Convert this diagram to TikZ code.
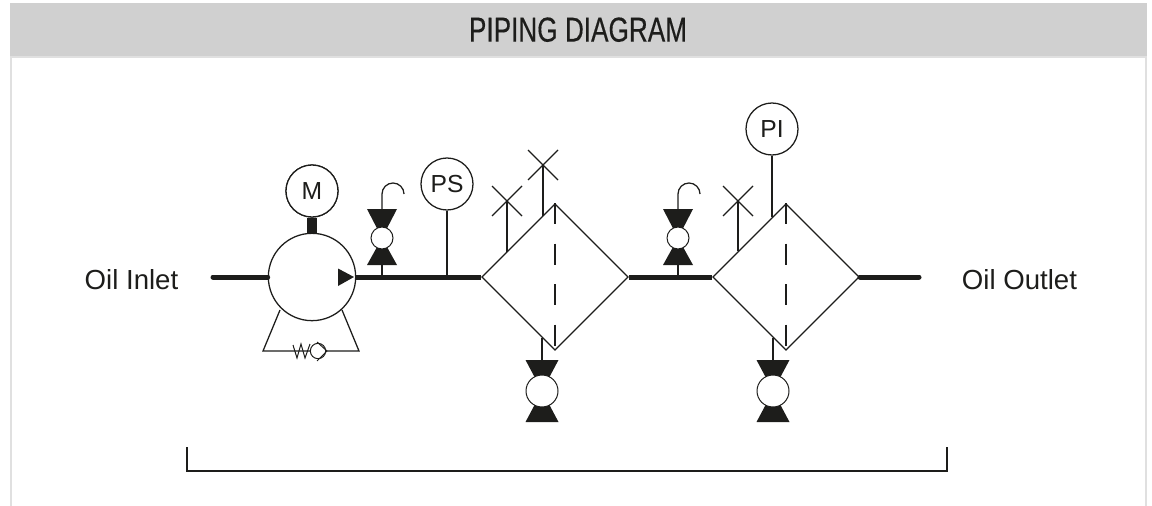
\documentclass[tikz,border=0pt]{standalone}
\usepackage{fontspec}
\setmainfont{Liberation Sans}
\newfontfamily\titlefont[FakeStretch=0.755,FakeBold=0.35]{Liberation Sans}
\usetikzlibrary{shapes.geometric}
\definecolor{pipeink}{HTML}{1D1D1B}
\definecolor{bandgray}{HTML}{D0D0D0}
\definecolor{framegray}{HTML}{E0E0E0}

\begin{document}
\begin{tikzpicture}[x=0.75pt,y=-0.75pt,line join=miter]
  \tikzstyle{pipeLine} = [pipeink,line width=3.75pt,line cap=round];
  \tikzstyle{thinLine} = [pipeink,line width=0.95pt];
  \tikzstyle{gauge} = [draw=pipeink,line width=0.95pt,fill=white,circle,minimum size=39pt,inner sep=0pt,text=pipeink,font={\fontsize{18.5}{20}\selectfont}];
  \tikzstyle{filterBox} = [draw=pipeink,line width=0.95pt,fill=white,diamond,aspect=1,minimum size=110pt,inner sep=0pt];
  \tikzstyle{ball} = [draw=pipeink,line width=0.75pt,fill=white,circle,inner sep=0pt];
  \tikzstyle{edgeLabel} = [font={\fontsize{20.7}{23}\selectfont},text=pipeink];

  \useasboundingbox (0,0) rectangle (1152,506);

  % frame and title
  \draw[framegray,line width=1.5pt] (11,56) -- (11,506) (1146,56) -- (1146,506) (11,57) -- (1146,57);
  \fill[bandgray] (10,3) rectangle (1147,56);
  \node[text=pipeink,inner sep=0pt] (title) at (578,29.7) {\titlefont\fontsize{26}{28}\selectfont PIPING DIAGRAM};

  % main components
  \node[gauge,minimum size=65.5pt] (pump) at (312,277) {};
  \node[gauge] (motor) at (312,191) {};
  \node[gauge] (ps) at (447,184) {PS};
  \node[gauge] (pi) at (772,129) {PI};
  \node[filterBox] (filterA) at (555,277) {};
  \node[filterBox] (filterB) at (786,277) {};
  \node[edgeLabel] (inlet) at (131.5,279.5) {Oil Inlet};
  \node[edgeLabel] (outlet) at (1019.5,279.5) {Oil Outlet};

  % main pipe
  \coordinate (inletEnd) at (213,277);
  \coordinate (outletEnd) at (919,277);
  \draw[pipeLine] (inletEnd) -- (pump.west);
  \draw[pipeLine,line cap=butt] (pump.east) -- (filterA.west);
  \draw[pipeLine,line cap=butt] (filterA.east) -- (filterB.west);
  \draw[pipeLine] (filterB.east) -- (outletEnd);
  \draw[pipeink,line width=8pt] (motor.south) -- (pump.north);
  \node[gauge] at (motor) {M};
  \fill[pipeink] (354,277) -- (338,268.5) -- (338,286) -- cycle;

  % instruments
  \draw[thinLine] (ps.south) -- (447,277);
  \draw[thinLine] (pi.south) -- (772,217);

  % filter cores
  \draw[thinLine,dash pattern=on 16pt off 14.4pt] (filterA.north) -- (filterA.south);
  \draw[thinLine,dash pattern=on 16pt off 14.4pt] (filterB.north) -- (filterB.south);

  % vents
  \foreach \name/\xx/\ybase/\ytop in {ventA/507/252/201,ventB/543/216/165,ventC/738/251/201} {
    \coordinate (\name) at (\xx,\ytop);
    \coordinate (\name Base) at (\xx,\ybase);
    \draw[thinLine] (\name Base) -- (\name);
    \draw[thinLine] (\xx-15,\ytop-15) -- (\xx+15,\ytop+15);
    \draw[thinLine] (\xx-15,\ytop+15) -- (\xx+15,\ytop-15);
  }

  % small valves on the pipe
  \foreach \name/\xx in {valveA/382,valveB/678} {
    \draw[thinLine] (\xx,265) -- (\xx,277);
    \draw[thinLine] (\xx,209) -- (\xx,194) arc[start angle=180,end angle=0,x radius=11,y radius=-11];
    \fill[pipeink] (\xx-15,209) -- (\xx+15,209) -- (\xx,238) -- cycle;
    \fill[pipeink] (\xx-15,265) -- (\xx+15,265) -- (\xx,238) -- cycle;
    \node[ball,minimum size=16.5pt] (\name) at (\xx,238) {};
  }

  % drain valves
  \foreach \name/\xx in {drainA/542,drainB/773} {
    \draw[thinLine] (\xx,338) -- (\xx,360);
    \fill[pipeink] (\xx-16.5,360) -- (\xx+16.5,360) -- (\xx,391) -- cycle;
    \fill[pipeink] (\xx-16.5,422) -- (\xx+16.5,422) -- (\xx,391) -- cycle;
    \node[ball,minimum size=24pt] (\name) at (\xx,391) {};
  }

  % pump bypass with check valve
  \coordinate (bypassL) at (280,310);
  \coordinate (bypassR) at (342,310);
  \draw[thinLine] (bypassL) -- (263,351) -- (359,351) -- (bypassR);
  \draw[thinLine,line width=0.75pt] (293,345) -- (297,358) -- (301,344) -- (305,358) -- (310,344);
  \node[ball,minimum size=11.5pt] (checkBall) at (318,351) {};
  \draw[thinLine,line width=0.75pt] (317,342) -- (327,351) -- (317,361);

  % bracket
  \coordinate (bracketL) at (187,447);
  \coordinate (bracketR) at (947,447);
  \draw[pipeink,line width=1.4pt] (bracketL) -- (187,471) -- (947,471) -- (bracketR);
\end{tikzpicture}
\end{document}
